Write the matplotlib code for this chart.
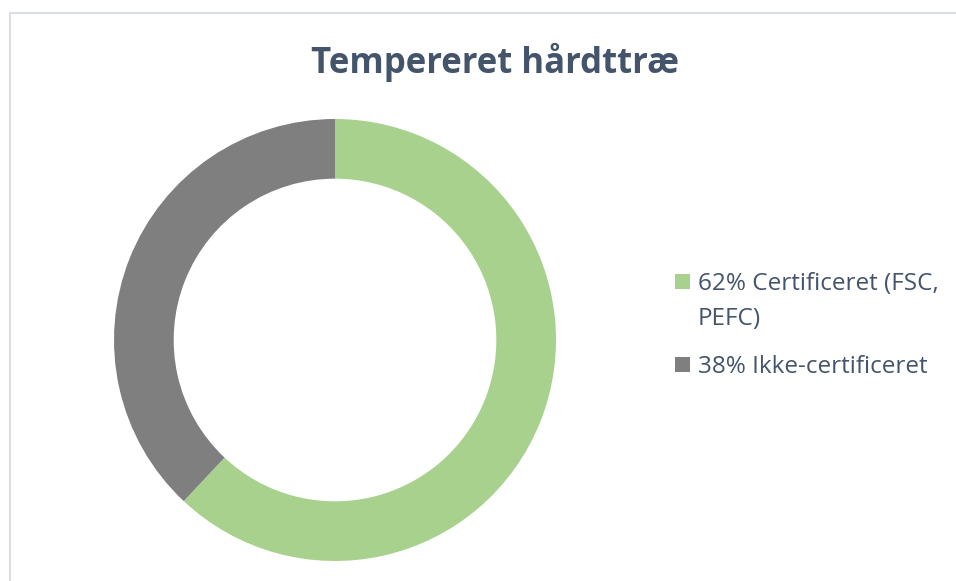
import matplotlib.pyplot as plt
from matplotlib.patches import Rectangle

plt.rcParams['font.family'] = ['Open Sans', 'DejaVu Sans']

# data
labels = ['62% Certificeret (FSC,\nPEFC)', '38% Ikke-certificeret']
values = [62, 38]
colors = ['#A9D18E', '#7F7F7F']
title = 'Tempereret hårdttræ'
text_color = '#44546A'

W, H = 956, 581
fig = plt.figure(figsize=(W / 100, H / 100), dpi=100)

# light chart border (only left and top visible in the crop)
fig.patches.append(Rectangle((10 / W, -0.05), 1.2, (H - 13) / H + 0.05,
                             transform=fig.transFigure, fill=False,
                             edgecolor='#D9DEE5', linewidth=1.5))

# donut: centre ~ (335, 340), outer radius ~221 px
cx, cy, r = 335, 340, 221
ax = fig.add_axes([(cx - r) / W, (H - cy - r) / H, 2 * r / W, 2 * r / H])
ax.pie(values, colors=colors, startangle=90, counterclock=False,
       radius=1.0, wedgeprops=dict(width=0.27, edgecolor='none'))
ax.set_xlim(-1, 1)
ax.set_ylim(-1, 1)
ax.set_aspect('equal')
ax.axis('off')

fig.text(495 / W, 1 - 62 / H, title, ha='center', va='center',
         fontsize=25, fontweight='bold', color=text_color)

# legend drawn by hand so the square sits on the first text line
baselines = [290, 373]
pitch = 35
for lab, col, yb in zip(labels, colors, baselines):
    fig.patches.append(Rectangle((675 / W, 1 - (yb - 1) / H), 15 / W, 15 / H,
                                 transform=fig.transFigure, facecolor=col,
                                 edgecolor='none'))
    for i, line in enumerate(lab.split('\n')):
        fig.text(698 / W, 1 - (yb + i * pitch) / H, line, ha='left',
                 va='baseline', fontsize=17.5, color=text_color)

fig.savefig('out.png', dpi=100)
